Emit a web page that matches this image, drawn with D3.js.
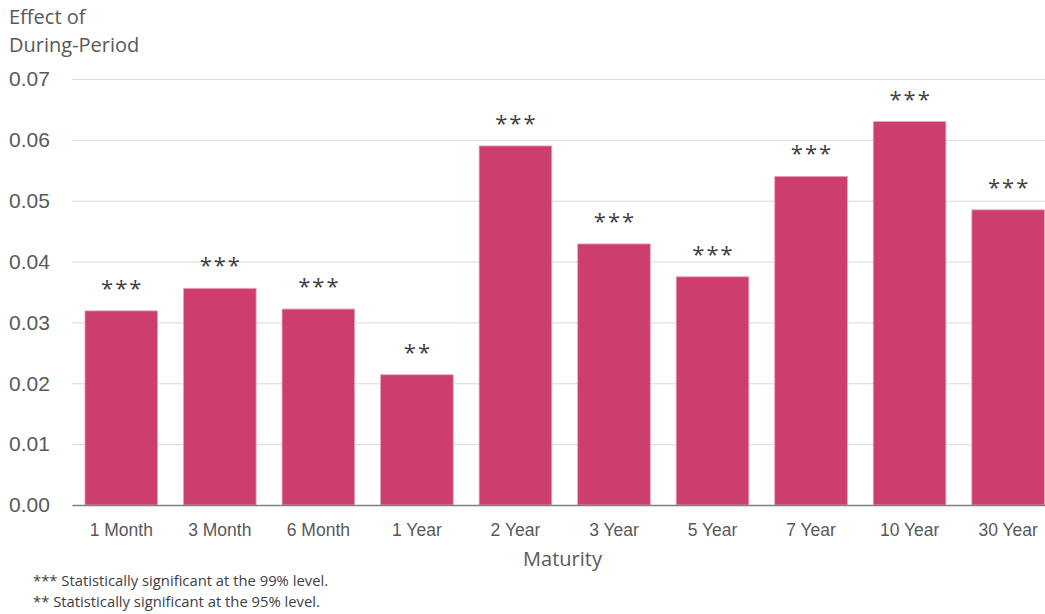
<!DOCTYPE html>
<html>
<head>
<meta charset="utf-8">
<script src="https://cdn.jsdelivr.net/npm/d3@7"></script>
<style>
  html, body { margin: 0; padding: 0; background: #fff; overflow: hidden; }
  svg { display: block; font-family: "Open Sans", "Noto Sans", sans-serif; }
</style>
</head>
<body>
<svg id="chart" width="1045" height="614"></svg>
<script>
const categories = ["1 Month", "3 Month", "6 Month", "1 Year", "2 Year", "3 Year", "5 Year", "7 Year", "10 Year", "30 Year"];
const values = [0.0319, 0.0356, 0.0322, 0.0214, 0.0590, 0.0429, 0.0375, 0.0540, 0.0630, 0.0485];
const significance = ["***", "***", "***", "**", "***", "***", "***", "***", "***", "***"];
const yTicks = [0, 0.01, 0.02, 0.03, 0.04, 0.05, 0.06, 0.07];
const yTitle = ["Effect of", "During-Period"];
const xTitle = "Maturity";
const footnotes = ["*** Statistically significant at the 99% level.", "** Statistically significant at the 95% level."];

const svg = d3.select("#chart");
const mLeft = 72, mRight = 1057.4, mTop = 79, mBottom = 505;

const x = d3.scaleBand().domain(categories).range([mLeft, mRight]).paddingInner(0.263).paddingOuter(0.1315);
const y = d3.scaleLinear().domain([0, 0.07]).range([mBottom, mTop]);

// gridlines + y labels
const yAxis = svg.append("g")
  .attr("transform", `translate(${mLeft},0)`)
  .call(d3.axisLeft(y).tickValues(yTicks).tickFormat(d3.format(".2f")).tickSize(-(mRight - mLeft)).tickPadding(0));
yAxis.select(".domain").remove();
yAxis.selectAll(".tick line").attr("stroke", "#d9d9d9").attr("stroke-width", 1);
yAxis.selectAll(".tick text")
  .attr("x", 9 - mLeft).attr("text-anchor", "start")
  .attr("fill", "#595959").style("font-size", "21px");

// bars
svg.append("g").selectAll("rect").data(values).join("rect")
  .attr("x", (d, i) => x(categories[i]))
  .attr("width", x.bandwidth())
  .attr("y", d => y(d))
  .attr("height", d => y(0) - y(d))
  .attr("fill", "#cc3e6e")
  .attr("stroke", "#e9a3bb")
  .attr("stroke-width", 0.8);

// significance markers
svg.append("g").selectAll("text").data(values).join("text")
  .attr("x", (d, i) => x(categories[i]) + x.bandwidth() / 2 + 1)
  .attr("y", d => y(d) - 15)
  .attr("text-anchor", "middle")
  .attr("fill", "#404040")
  .style("font-size", "22px")
  .style("letter-spacing", "2px")
  .text((d, i) => significance[i]);

// x axis
const xAxis = svg.append("g")
  .attr("transform", `translate(0,${mBottom})`)
  .call(d3.axisBottom(x).tickSize(0).tickPadding(19));
xAxis.select(".domain").attr("stroke", "#7f7f7f").attr("stroke-width", 1.5);
xAxis.selectAll(".tick text").attr("fill", "#595959").style("font-size", "17.5px");

// titles
svg.append("text").attr("x", 9).attr("y", 0).attr("fill", "#595959").style("font-size", "20px")
  .selectAll("tspan").data(yTitle).join("tspan")
  .attr("x", 9).attr("y", (d, i) => 23.5 + i * 28.3).text(d => d);

svg.append("text").attr("x", 562.5).attr("y", 566).attr("text-anchor", "middle")
  .attr("fill", "#595959").style("font-size", "20px").text(xTitle);

svg.append("g").selectAll("text").data(footnotes).join("text")
  .attr("x", 33).attr("y", (d, i) => 586 + i * 20.7)
  .attr("fill", "#404040").style("font-size", "14.8px").text(d => d);
</script>
</body>
</html>
